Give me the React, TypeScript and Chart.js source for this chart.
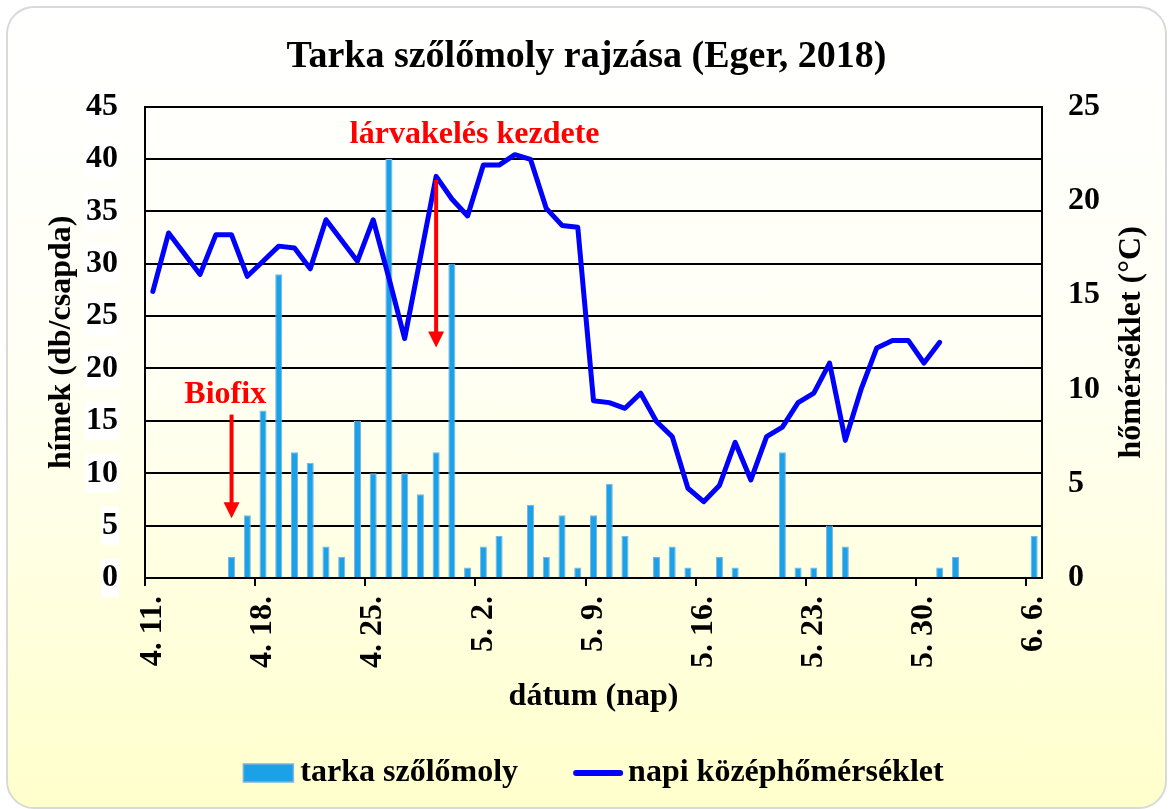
import React, { useEffect, useRef } from 'react';
import { Chart, registerables } from 'chart.js';

Chart.register(...registerables);

// ---- data ----
const dates: string[] = [
  '4. 11.', '4. 12.', '4. 13.', '4. 14.', '4. 15.', '4. 16.', '4. 17.', '4. 18.', '4. 19.', '4. 20.',
  '4. 21.', '4. 22.', '4. 23.', '4. 24.', '4. 25.', '4. 26.', '4. 27.', '4. 28.', '4. 29.', '4. 30.',
  '5. 1.', '5. 2.', '5. 3.', '5. 4.', '5. 5.', '5. 6.', '5. 7.', '5. 8.', '5. 9.', '5. 10.',
  '5. 11.', '5. 12.', '5. 13.', '5. 14.', '5. 15.', '5. 16.', '5. 17.', '5. 18.', '5. 19.', '5. 20.',
  '5. 21.', '5. 22.', '5. 23.', '5. 24.', '5. 25.', '5. 26.', '5. 27.', '5. 28.', '5. 29.', '5. 30.',
  '5. 31.', '6. 1.', '6. 2.', '6. 3.', '6. 4.', '6. 5.', '6. 6.',
];

const mothCatch: number[] = [
  0, 0, 0, 0, 0, 2, 6, 16, 29, 12,
  11, 3, 2, 15, 10, 40, 10, 8, 12, 30,
  1, 3, 4, 0, 7, 2, 6, 1, 6, 9,
  4, 0, 2, 3, 1, 0, 2, 1, 0, 0,
  12, 1, 1, 5, 3, 0, 0, 0, 0, 0,
  1, 2, 0, 0, 0, 0, 4,
];

const meanTemp: (number | null)[] = [
  15.2, 18.3, 17.2, 16.1, 18.2, 18.2, 16.0, 16.8, 17.6, 17.5,
  16.4, 19.0, 17.9, 16.8, 19.0, 15.9, 12.7, 17.0, 21.3, 20.1,
  19.2, 21.9, 21.9, 22.45, 22.2, 19.6, 18.7, 18.6, 9.4, 9.3,
  9.0, 9.8, 8.3, 7.5, 4.76, 4.05, 4.9, 7.2, 5.2, 7.5,
  8.0, 9.3, 9.8, 11.4, 7.3, 10.0, 12.2, 12.6, 12.6, 11.4,
  12.5, null, null, null, null, null, null,
];

const seriesNames: string[] = ['tarka szőlőmoly', 'napi középhőmérséklet'];
const titleText = 'Tarka szőlőmoly rajzása (Eger, 2018)';
const leftAxisTitle = 'hímek (db/csapda)';
const rightAxisTitle = 'hőmérséklet (°C)';
const xAxisTitle = 'dátum (nap)';

// annotation notes (category index, left-axis values)
const noteTexts: string[] = ['Biofix', 'lárvakelés kezdete'];
const noteTextIndex: number[] = [4.6, 20.45];
const noteTextValue: number[] = [17.5, 42.3];
const noteArrowIndex: number[] = [5, 18];
const noteArrowFrom: number[] = [15.6, 38];
const noteArrowTo: number[] = [5.7, 22];

// ---- styling ----
const FAMILY = "'Liberation Serif', 'Times New Roman', serif";
const BAR_COLOR = '#1BA1E8';
const BAR_BORDER = '#7FB2E0';
const LINE_COLOR = '#0000FF';
const NOTE_COLOR = '#FF0000';
const font32 = { family: FAMILY, size: 32, weight: 'bold' as const };

const overlayPlugin = {
  id: 'overlay',
  afterDatasetsDraw(chart: any) {
    const { ctx, scales } = chart;
    const x = scales.x;
    const y = scales.y;
    const x0 = x.getPixelForValue(0);
    const step = x.getPixelForValue(1) - x0;
    const px = (i: number) => x0 + step * i;
    ctx.save();
    ctx.fillStyle = NOTE_COLOR;
    ctx.strokeStyle = NOTE_COLOR;
    ctx.font = `bold 32px ${FAMILY}`;
    ctx.textAlign = 'center';
    ctx.textBaseline = 'middle';
    noteTexts.forEach((t, k) => {
      ctx.fillText(t, px(noteTextIndex[k]), y.getPixelForValue(noteTextValue[k]));
      const ax = px(noteArrowIndex[k]);
      const y1 = y.getPixelForValue(noteArrowFrom[k]);
      const y2 = y.getPixelForValue(noteArrowTo[k]);
      const head = 16;
      ctx.lineWidth = 4;
      ctx.beginPath();
      ctx.moveTo(ax, y1);
      ctx.lineTo(ax, y2 - head + 2);
      ctx.stroke();
      ctx.beginPath();
      ctx.moveTo(ax - 8, y2 - head);
      ctx.lineTo(ax + 8, y2 - head);
      ctx.lineTo(ax, y2);
      ctx.closePath();
      ctx.fill();
    });
    ctx.restore();
  },
  afterDraw(chart: any) {
    const { ctx, chartArea } = chart;
    ctx.save();
    ctx.font = `bold 32px ${FAMILY}`;
    ctx.textBaseline = 'middle';
    ctx.textAlign = 'left';
    const sym = 50;
    const gap1 = 7;
    const gap2 = 5;
    const between = 55;
    const w1 = ctx.measureText(seriesNames[0]).width;
    const w2 = ctx.measureText(seriesNames[1]).width;
    const total = sym + gap1 + w1 + between + sym + gap2 + w2;
    const cx = (chartArea.left + chartArea.right) / 2;
    let xx = cx - total / 2;
    const yy = chart.height - 36;
    // bar symbol
    ctx.fillStyle = BAR_COLOR;
    ctx.fillRect(xx, yy - 9, sym, 18);
    ctx.strokeStyle = BAR_BORDER;
    ctx.lineWidth = 1.5;
    ctx.strokeRect(xx, yy - 9, sym, 18);
    xx += sym + gap1;
    ctx.fillStyle = '#000';
    ctx.fillText(seriesNames[0], xx, yy);
    xx += w1 + between;
    // line symbol
    ctx.strokeStyle = LINE_COLOR;
    ctx.lineWidth = 6;
    ctx.lineCap = 'round';
    ctx.beginPath();
    ctx.moveTo(xx + 3, yy);
    ctx.lineTo(xx + sym - 3, yy);
    ctx.stroke();
    xx += sym + gap2;
    ctx.fillStyle = '#000';
    ctx.fillText(seriesNames[1], xx, yy);

    // right axis title, reading bottom-to-top
    const r = chart.scales.y1;
    ctx.translate(r.right - 41, (chartArea.top + chartArea.bottom) / 2);
    ctx.rotate(-Math.PI / 2);
    ctx.textAlign = 'center';
    ctx.fillStyle = '#000';
    ctx.fillText(rightAxisTitle, 0, 0);
    ctx.restore();
  },
};

export default function App() {
  const canvasRef = useRef<HTMLCanvasElement | null>(null);

  useEffect(() => {
    const canvas = canvasRef.current;
    if (!canvas) return;
    const chart = new Chart(canvas, {
      data: {
        labels: dates,
        datasets: [
          {
            type: 'bar' as const,
            label: seriesNames[0],
            data: mothCatch,
            yAxisID: 'y',
            backgroundColor: BAR_COLOR,
            borderColor: BAR_BORDER,
            borderWidth: 1,
            barPercentage: 0.45,
            categoryPercentage: 1.0,
            order: 2,
          },
          {
            type: 'line' as const,
            label: seriesNames[1],
            data: meanTemp,
            yAxisID: 'y1',
            borderColor: LINE_COLOR,
            backgroundColor: LINE_COLOR,
            borderWidth: 5,
            pointRadius: 0,
            tension: 0,
            spanGaps: false,
            borderJoinStyle: 'round',
            borderCapStyle: 'round',
            order: 1,
          },
        ],
      },
      options: {
        responsive: false,
        animation: false,
        devicePixelRatio: 1,
        layout: { padding: { left: 0, right: 0, top: 0, bottom: 91 } },
        plugins: {
          legend: { display: false },
          tooltip: { enabled: false },
          title: {
            display: true,
            text: titleText,
            color: '#000',
            font: { family: FAMILY, size: 38, weight: 'bold' },
            padding: { top: 34, bottom: 27 },
          },
        },
        scales: {
          x: {
            type: 'category',
            offset: true,
            grid: {
              offset: true,
              drawOnChartArea: false,
              drawTicks: true,
              tickLength: 8,
              lineWidth: 2,
              color: (c: any) => (typeof c.index === 'number' && c.index % 7 === 0 ? '#000' : 'rgba(0,0,0,0)'),
            },
            border: { display: true, color: '#000', width: 2 },
            ticks: {
              autoSkip: false,
              minRotation: 90,
              maxRotation: 90,
              padding: 10,
              color: '#000',
              font: font32,
              callback: (_v: any, i: number) => (i % 7 === 0 ? dates[i] : ''),
            },
            title: {
              display: true,
              text: xAxisTitle,
              color: '#000',
              font: font32,
              padding: { top: 0, bottom: 2 },
            },
            afterFit: (s: any) => {
              s.height = 140;
            },
          },
          y: {
            type: 'linear',
            position: 'left',
            min: 0,
            max: 45,
            ticks: {
              stepSize: 5,
              color: '#000',
              font: font32,
              padding: 27,
              showLabelBackdrop: true,
              backdropColor: '#FFFFFF',
              backdropPadding: { x: 1, y: 0 },
            },
            grid: { color: '#000', lineWidth: 2, drawTicks: false },
            border: { display: true, color: '#000', width: 2 },
            title: {
              display: true,
              text: leftAxisTitle,
              color: '#000',
              font: font32,
              padding: { top: 43, bottom: 0 },
            },
            afterFit: (s: any) => {
              s.width = 145;
            },
          },
          y1: {
            type: 'linear',
            position: 'right',
            min: 0,
            max: 25,
            ticks: { stepSize: 5, color: '#000', font: font32, padding: 26 },
            grid: { drawOnChartArea: false, drawTicks: false },
            border: { display: true, color: '#000', width: 2 },
            title: { display: false, text: rightAxisTitle },
            afterFit: (s: any) => {
              s.width = 131;
            },
          },
        },
      } as any,
      plugins: [overlayPlugin],
    });
    return () => chart.destroy();
  }, []);

  return (
    <div style={{ position: 'absolute', left: 0, top: 0, width: 1173, height: 809, overflow: 'hidden' }}>
      <div
        style={{
          position: 'absolute',
          left: 6,
          top: 6,
          width: 1161,
          height: 803,
          boxSizing: 'border-box',
          border: '2px solid #D9D9D9',
          borderRadius: 28,
          background: 'linear-gradient(180deg, #FFFFFF 0%, #FFFFF4 45%, #FFFFCC 100%)',
        }}
      />
      <canvas
        ref={canvasRef}
        width={1173}
        height={809}
        style={{ position: 'absolute', left: 0, top: 0, width: 1173, height: 809, display: 'block' }}
      />
    </div>
  );
}
